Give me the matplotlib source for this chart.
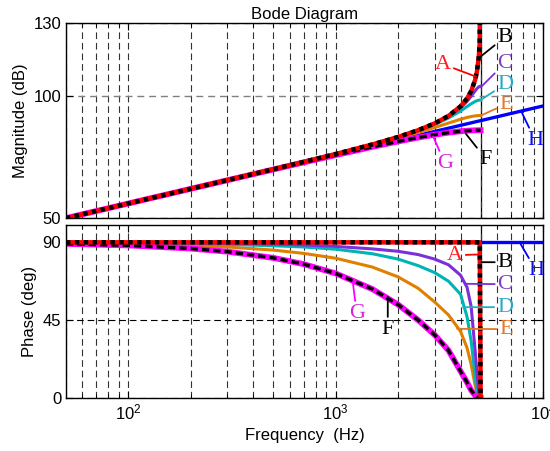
import matplotlib.pyplot as plt

plt.rcParams['font.family'] = ['Liberation Sans', 'DejaVu Sans']
plt.rcParams['mathtext.default'] = 'regular'

# frequency points (Hz) for the discrete curves A-G (they stop at 5 kHz)
freq = [50, 100, 200, 300, 500, 700, 1000, 1500, 2000, 2500, 3000, 3500,
        4000, 4300, 4500, 4700, 4800, 4900, 4950, 5000]

# magnitude (dB)
mag_ab = [49.94, 55.97, 62.00, 65.53, 70.01, 73.01, 76.26, 80.16, 83.25, 86.02,
          88.80, 91.88, 95.79, 99.03, 102.03, 106.51, 110.05, 116.07, 122.10, 200.0]
mag_c = [49.94, 55.96, 62.00, 65.53, 70.02, 73.01, 76.25, 80.15, 83.22, 85.95,
         88.67, 91.63, 95.18, 97.85, 99.92, 102.12, 103.10, 103.82, 104.01, 104.08]
mag_d = [49.94, 55.96, 62.00, 65.53, 70.01, 73.00, 76.23, 80.10, 83.12, 85.78,
         88.35, 91.01, 93.89, 95.71, 96.84, 97.79, 98.12, 98.35, 98.40, 98.42]
mag_e = [49.94, 55.96, 61.99, 65.52, 69.99, 72.96, 76.14, 79.89, 82.71, 85.05,
         87.11, 88.95, 90.51, 91.25, 91.62, 91.89, 91.97, 92.03, 92.04, 92.04]
mag_fg = [49.94, 55.96, 61.98, 65.49, 69.91, 72.80, 75.82, 79.16, 81.41, 83.01,
          84.18, 85.02, 85.58, 85.81, 85.91, 85.98, 86.00, 86.02, 86.02, 86.02]

# phase (deg)
ph_ab = [90, 90, 90, 90, 90, 90, 90, 90, 90, 90,
         90, 90, 90, 90, 90, 90, 90, 90, 90, 0]
ph_c = [89.9, 89.8, 89.6, 89.4, 89.0, 88.5, 87.6, 86.2, 84.8, 82.9,
        80.3, 77.0, 71.0, 64.0, 53.0, 28.0, 15.0, 3.0, 1.0, 0.0]
ph_d = [89.8, 89.6, 89.2, 88.8, 88.0, 87.3, 86.0, 83.4, 80.3, 76.5,
        72.5, 67.5, 60.0, 47.0, 33.0, 13.0, 5.0, 0.5, 0.0, 0.0]
ph_e = [89.5, 89.1, 88.2, 87.3, 85.5, 83.6, 80.8, 75.7, 70.0, 63.4,
        55.5, 48.0, 38.5, 29.0, 19.5, 7.5, 2.5, 0.3, 0.0, 0.0]
ph_fg = [89.1, 88.2, 86.4, 84.6, 81.0, 77.4, 72.0, 63.0, 54.0, 45.0,
         36.5, 27.5, 15.5, 9.0, 4.5, 1.5, 0.5, 0.0, 0.0, 0.0]

# continuous curve H
freq_h = [50, 100, 200, 500, 1000, 2000, 3000, 4000, 5000, 6000, 7000, 8000, 9000, 10000]
mag_h = [49.94, 55.96, 61.98, 69.94, 75.96, 81.98, 85.51, 88.01, 89.95, 91.53,
         92.87, 94.03, 95.05, 95.96]
ph_h = [90, 90, 90, 90, 90, 90, 90, 90, 90, 90, 90, 90, 90, 90]

f_nyq = 5000

c_red, c_pur, c_cyan, c_org, c_mag, c_blue = '#ff0000', '#7b2fd9', '#00b4b4', '#e08000', '#ff00ff', '#0000ff'


def draw_curves(ax, h, e, d, c, fg, ab):
    ax.axvline(f_nyq, color='k', lw=0.9, zorder=1.5)
    ax.plot(freq_h, h, color=c_blue, lw=2.4)
    ax.plot(freq, e, color=c_org, lw=2.2)
    ax.plot(freq, d, color=c_cyan, lw=2.2)
    ax.plot(freq, c, color=c_pur, lw=2.2)
    ax.plot(freq, fg, color=c_mag, lw=4.2)
    ax.plot(freq, fg, color='k', lw=2.4, ls=(0, (2.2, 1.2)))
    ax.plot(freq, ab, color=c_red, lw=3.2)
    ax.plot(freq, ab, color='k', lw=3.2, ls=(0, (1, 1)))


def tag(ax, s, xy, xytext, lc, tc):
    ax.annotate(s, xy=xy, xytext=xytext, color=tc, fontsize=16,
                family='Liberation Serif', ha='center', va='center',
                arrowprops=dict(arrowstyle='-', color=lc, lw=1.3,
                                shrinkA=0, shrinkB=0))


fig = plt.figure(figsize=(5.5, 4.51), dpi=100)
ax1 = fig.add_axes([0.12, 0.5166, 0.8673, 0.4324])
ax2 = fig.add_axes([0.12, 0.1175, 0.8673, 0.3836])

draw_curves(ax1, mag_h, mag_e, mag_d, mag_c, mag_fg, mag_ab)
draw_curves(ax2, ph_h, ph_e, ph_d, ph_c, ph_fg, ph_ab)

for ax in (ax1, ax2):
    ax.set_xscale('log')
    ax.set_xlim(50, 1e4)
    ax.tick_params(which='both', direction='in', top=True, right=True, labelsize=12)
    ax.tick_params(which='major', length=5)
    ax.tick_params(which='minor', length=3)
    ax.grid(True, which='both', axis='x', color='0.2', ls=(0, (6, 3.5)), lw=0.8)
    for sp in ax.spines.values():
        sp.set_linewidth(1.0)

ax1.set_ylim(50, 130)
ax1.set_yticks([50, 100, 130])
ax1.grid(True, which='major', axis='y', color='0.5', ls=(0, (5, 3.5)), lw=1.0)
ax1.tick_params(labelbottom=False)
ax1.set_ylabel('Magnitude (dB)', fontsize=12)
ax1.set_title('Bode Diagram', fontsize=12, pad=3)

ax2.set_ylim(0, 100)
ax2.set_yticks([0, 45, 90])
ax2.grid(True, which='major', axis='y', color='k', ls=(0, (6, 3.5)), lw=0.8)
ax2.set_ylabel('Phase (deg)', fontsize=12)
ax2.set_xlabel('Frequency  (Hz)', fontsize=12)

# labels on the magnitude plot
tag(ax1, 'A', (4750, 108.0), (3290, 113.1), c_red, '#ff2020')
tag(ax1, 'B', (4960, 116.0), (6550, 124.2), 'k', 'k')
tag(ax1, 'C', (5000, 103.6), (6550, 113.5), c_pur, '#7f40c0')
tag(ax1, 'D', (5000, 98.4), (6550, 104.9), '#20b0c0', '#2aa8c8')
tag(ax1, 'E', (5000, 92.0), (6620, 96.7), '#e07820', '#e8782a')
tag(ax1, 'F', (4250, 84.5), (5300, 74.2), 'k', 'k')
tag(ax1, 'G', (2950, 83.5), (3360, 72.5), c_mag, '#dd22dd')
tag(ax1, 'H', (7900, 93.3), (9150, 82.0), c_blue, '#1010ee')

# labels on the phase plot
tag(ax2, 'A', (4930, 83.0), (3760, 82.5), c_red, '#ff2020')
tag(ax2, 'B', (5050, 78.5), (6550, 78.5), 'k', 'k')
tag(ax2, 'C', (4200, 66.0), (6550, 65.8), c_pur, '#7f40c0')
tag(ax2, 'D', (4120, 52.5), (6550, 52.5), '#20b0c0', '#2aa8c8')
tag(ax2, 'E', (3850, 40.0), (6620, 39.8), '#e07820', '#e8782a')
tag(ax2, 'F', (1783, 58.5), (1783, 39.8), 'k', 'k')
tag(ax2, 'G', (1212, 66.0), (1263, 49.0), c_mag, '#dd22dd')
tag(ax2, 'H', (7800, 89.0), (9250, 73.8), c_blue, '#1010ee')

fig.savefig('out.png', dpi=100)
